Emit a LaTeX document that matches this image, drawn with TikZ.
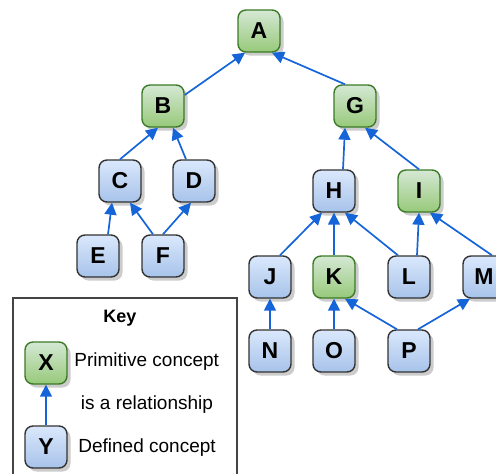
\documentclass[tikz,border=0pt]{standalone}
\usepackage{fontspec}
\setmainfont{Liberation Sans}
\usepackage{tikz}
\usetikzlibrary{shapes,arrows.meta,positioning,shadows}

\definecolor{primtop}{HTML}{D5E8D4}
\definecolor{primbot}{HTML}{97C97A}
\definecolor{primline}{HTML}{3B7A26}
\definecolor{deftop}{HTML}{DAE8FC}
\definecolor{defbot}{HTML}{A7C3EA}
\definecolor{defline}{HTML}{333333}
\definecolor{edgeblue}{HTML}{1565D8}
\definecolor{keyline}{HTML}{444444}

\begin{document}
\begin{tikzpicture}[x=1pt, y=-1pt, node distance=74pt, thick]
        \tikzstyle{concept} = [rectangle, rounded corners=8pt, minimum width=42pt, minimum height=42pt, inner sep=0pt, line width=1.4pt, font=\bfseries\fontsize{23}{23}\selectfont, drop shadow={shadow xshift=3.5pt, shadow yshift=-3.5pt, fill=black!40}]
        \tikzstyle{primitive} = [concept, draw=primline, top color=primtop, bottom color=primbot]
        \tikzstyle{defined} = [concept, draw=defline, top color=deftop, bottom color=defbot]
        \tikzstyle{keytext} = [inner sep=0pt, font=\fontsize{19}{19}\selectfont]
        \tikzstyle{line} = [draw=edgeblue, line width=1.7pt, -{Triangle[length=12pt,width=12pt]}]

        \useasboundingbox (0,0) rectangle (496,474);
        \clip (0,0) rectangle (496,474);

        \node [primitive] (A) at (259,31) {A};
        \node [primitive] (B) at (163,106) {B};
        \node [primitive] (G) at (355,106) {G};
        \node [defined] (C) at (120,181) {C};
        \node [defined, right of=C] (D) {D};
        \node [defined] (E) at (98,256) {E};
        \node [defined] (F) at (163,256) {F};
        \node [defined] (H) at (334,191) {H};
        \node [primitive] (I) at (419,191) {I};
        \node [defined] (J) at (270,277) {J};
        \node [primitive] (K) at (334,277) {K};
        \node [defined] (L) at (409,277) {L};
        \node [defined] (M) at (484,277) {M};
        \node [defined, below of=J] (N) {N};
        \node [defined, below of=K] (O) {O};
        \node [defined, below of=L] (P) {P};

        \path [line] ([yshift=11pt]B.east) -- ([xshift=-14pt]A.south);
        \path [line] ([xshift=-10pt]G.north) -- ([xshift=13pt]A.south);
        \path [line] (C.north) -- ([xshift=-5pt]B.south);
        \path [line] ([xshift=-8pt]D.north) -- ([xshift=10pt]B.south);
        \path [line] ([xshift=10pt]E.north) -- ([xshift=-8pt]C.south);
        \path [line] ([xshift=-10pt]F.north) -- ([xshift=10pt]C.south);
        \path [line] (F.north) -- ([xshift=-3pt]D.south);
        \path [line] ([xshift=9pt]H.north) -- ([xshift=-10pt]G.south);
        \path [line] (I.north) -- ([xshift=10pt]G.south);
        \path [line] ([xshift=10pt]J.north) -- ([xshift=-12pt]H.south);
        \path [line] (K) -- (H);
        \path [line] ([xshift=-11pt]L.north) -- ([xshift=11pt]H.south);
        \path [line] ([xshift=8pt]L.north) -- (I.south);
        \path [line] ([xshift=8pt]M.north) -- ([xshift=11pt]I.south);
        \path [line] (N) -- (J);
        \path [line] (O) -- (K);
        \path [line] ([xshift=-12pt]P.north) -- ([xshift=11pt]K.south);
        \path [line] ([xshift=9pt]P.north) -- ([xshift=-14pt]M.south);

        % Key
        \draw [keyline, line width=1.2pt] (13,298) rectangle (237,490);
        \node [font=\bfseries\fontsize{18}{18}\selectfont] (keytitle) at (120,318) {Key};
        \node [primitive] (X) at (46,363) {X};
        \node [defined, below of=X, node distance=84pt] (Y) {Y};
        \path [line] (Y) -- (X);
        \node [keytext, anchor=west] (keyprim) at (74,362) {Primitive concept};
        \node [keytext] (keyrel) at (147,405) {is a relationship};
        \node [keytext, anchor=west] (keydef) at (78,448) {Defined concept};
    \end{tikzpicture}
\end{document}
